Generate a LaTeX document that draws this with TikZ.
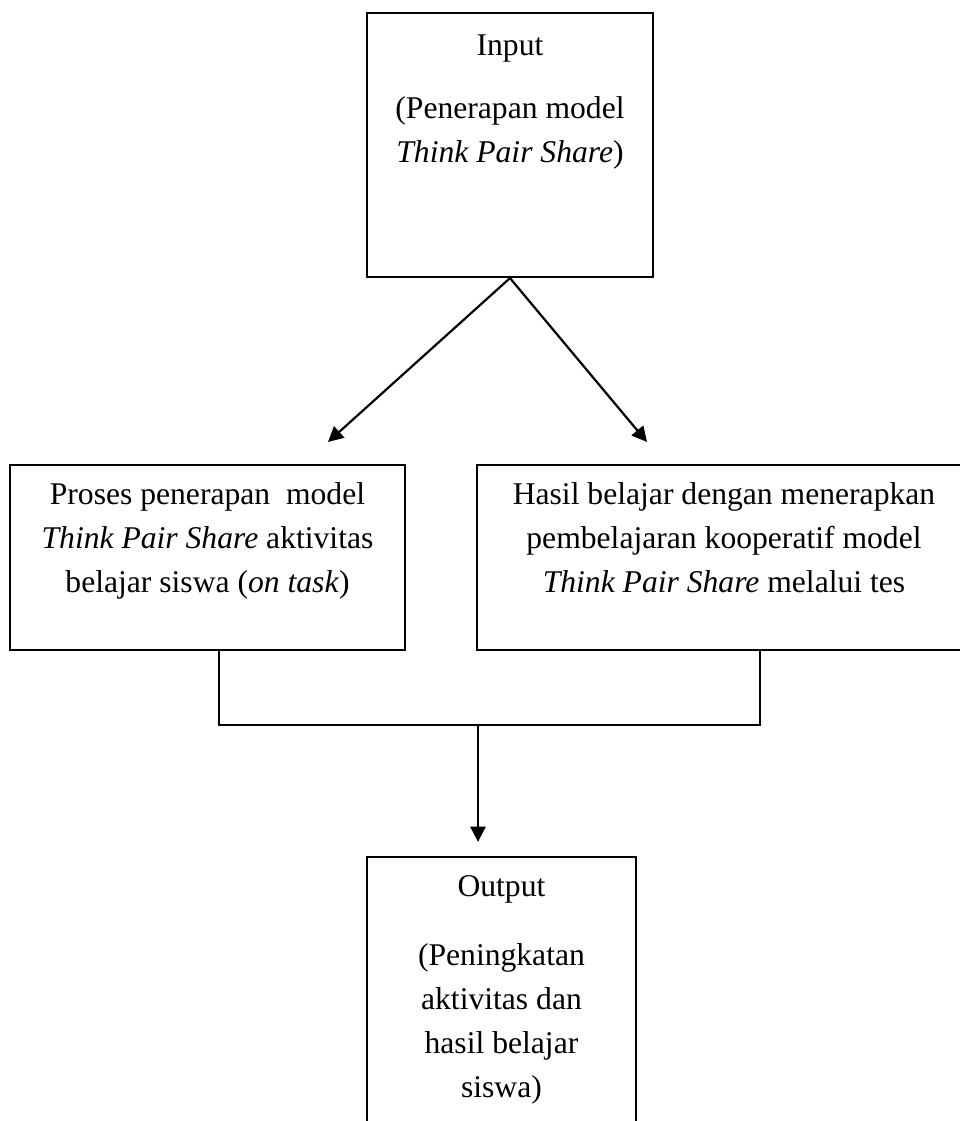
\documentclass[tikz,border=0pt]{standalone}
\usepackage{fontspec}
\setmainfont{Liberation Serif}
\usetikzlibrary{arrows.meta}

\begin{document}
\begin{tikzpicture}[>={Triangle[length=5.5pt,width=5.5pt]},line width=0.8pt,
    font=\fontsize{11.5pt}{16pt}\selectfont,
    box/.style={draw,inner sep=0pt}]
    \useasboundingbox (0,0) rectangle (12.269,-14.327);
    % boxes
    \node [box] (input) at (6.518,-1.853) {\parbox[c][3.374cm][t]{3.655cm}{\centering
        \rule{0pt}{15.3pt}Input\\[7pt](Penerapan model\\\textit{Think Pair Share})}};
    \node [box] (proses) at (2.652,-7.125) {\parbox[c][2.364cm][t]{5.048cm}{\centering
        \rule{0pt}{14.5pt}Proses penerapan\ \ model\\\textit{Think Pair Share} aktivitas\\belajar siswa (\textit{on task})}};
    \node [box] (hasil) at (9.253,-7.125) {\parbox[c][2.364cm][t]{6.314cm}{\centering
        \rule{0pt}{14.5pt}Hasil belajar dengan menerapkan\\pembelajaran kooperatif model\\\textit{Think Pair Share} melalui tes}};
    \node [box] (output) at (6.409,-12.808) {\parbox[c][3.71cm][t]{3.438cm}{\centering
        \rule{0pt}{14.5pt}Output\\[9pt](Peningkatan\\aktivitas dan\\hasil belajar\\siswa)}};
    % connectors
    \coordinate (tl) at (4.192,-5.649);
    \coordinate (tr) at (8.269,-5.649);
    \coordinate (join) at (6.109,-9.266);
    \draw[->] (input.south) -- (tl);
    \draw[->] (input.south) -- (tr);
    \draw ([xshift=0.147cm]proses.south) |- (join) -| ([xshift=0.46cm]hasil.south);
    \draw[->,shorten >=0.18cm] (join) -- (join |- output.north);
\end{tikzpicture}
\end{document}
